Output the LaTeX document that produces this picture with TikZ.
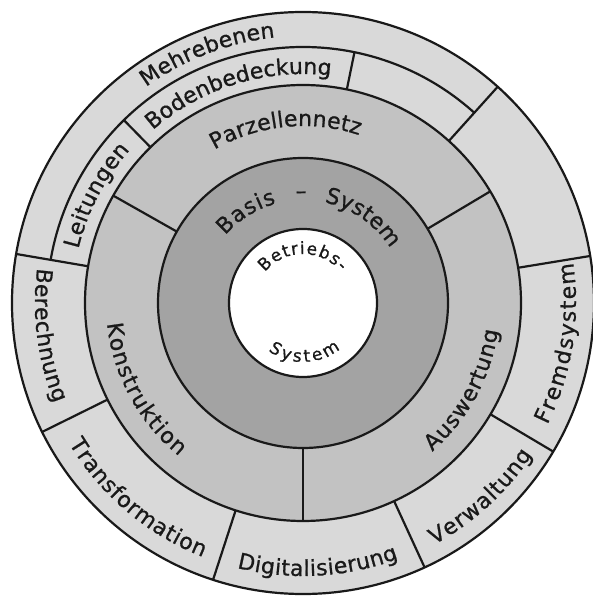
\documentclass[tikz,border=0pt]{standalone}
\usepackage{fontspec}
\setmainfont{DejaVu Sans}
\newfontfamily\lblfont{DejaVu Sans}[FakeBold=0.8]
\usetikzlibrary{decorations.text}
\definecolor{ringout}{gray}{0.85}
\definecolor{ringmid}{gray}{0.76}
\definecolor{ringdark}{gray}{0.64}
\definecolor{txt}{gray}{0.1}
\tikzset{
  sep/.style={line width=2.2pt, draw=black!90},
  lbl/.style={decorate, decoration={text along path, text align={fit to path}, text color=txt}},
}
\newcommand{\ArcLabel}[5]{%
  \path[lbl, decoration={text={|\lblfont\fontsize{#5}{#5}\selectfont|#4}}]
    (#1:#3) arc[start angle=#1, end angle=#2, radius=#3];}
\begin{document}
\begin{tikzpicture}
\useasboundingbox (-303pt,-293pt) rectangle (290pt,303pt);
\fill[white] (-303pt,-293pt) rectangle (290pt,303pt);
% rings
\fill[ringout] (0,0) circle[radius=291pt];
\fill[ringmid] (0,0) circle[radius=218pt];
\fill[ringdark] (0,0) circle[radius=145pt];
\fill[white] (0,0) circle[radius=74pt];
\foreach \r in {291,218,145,74} \draw[sep] (0,0) circle[radius=\r pt];
\draw[sep] (48:256pt) arc[start angle=48, end angle=170.3, radius=256pt];
% dividers
\foreach \a in {30.8,150.5,270} \draw[sep] (\a:145pt) -- (\a:218pt);
\foreach \a in {78.4,134.4} \draw[sep] (\a:218pt) -- (\a:256pt);
\foreach \a in {48,170.3,9.3,-30.7,-65.3,-108,206.3} \draw[sep] (\a:218pt) -- (\a:291pt);
% labels, upper half (clockwise)
\ArcLabel{126}{96}{267pt}{Mehrebenen}{22}
\ArcLabel{131}{83}{229pt}{Bodenbedeckung}{22}
\ArcLabel{166.5}{138.5}{231pt}{Leitungen}{22}
\ArcLabel{120}{71.5}{177pt}{Parzellennetz}{22}
\ArcLabel{139}{105}{103pt}{Basis}{22}
\ArcLabel{78}{32}{103pt}{System}{22}
\node[rotate=1, text=txt, font=\lblfont\fontsize{22}{22}\selectfont, inner sep=0pt] (dash) at (91:108pt) {–};
\ArcLabel{141}{40}{49pt}{Betriebs-}{17}
% labels, lower half (counter-clockwise)
\ArcLabel{172.5}{202}{268pt}{Berechnung}{22}
\ArcLabel{186}{231}{197pt}{Konstruktion}{22}
\ArcLabel{211}{248.5}{273pt}{Transformation}{22}
\ArcLabel{256}{290.5}{273pt}{Digitalisierung}{22}
\ArcLabel{-61.5}{-33.5}{275pt}{Verwaltung}{22}
\ArcLabel{-26.5}{8.5}{273pt}{Fremdsystem}{22}
\ArcLabel{-49}{-8}{197pt}{Auswertung}{22}
\ArcLabel{234}{309}{59pt}{System}{17}
\end{tikzpicture}
\end{document}
